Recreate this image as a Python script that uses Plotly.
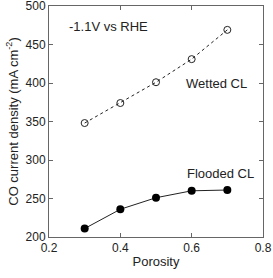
import plotly.graph_objects as go

porosity = [0.3, 0.4, 0.5, 0.6, 0.7]
wetted = [348, 374, 401, 431, 469]
flooded = [211, 236, 251, 260, 261]
x_ticks = [0.2, 0.4, 0.6, 0.8]
y_ticks = [200, 250, 300, 350, 400, 450, 500]

fig = go.Figure()
fig.add_trace(go.Scatter(x=porosity, y=wetted, mode="lines+markers",
                         line=dict(color="#222", width=1, dash="dot"),
                         marker=dict(symbol="circle-open", size=7, color="#222", line=dict(width=1)),
                         showlegend=False))
fig.add_trace(go.Scatter(x=porosity, y=flooded, mode="lines+markers",
                         line=dict(color="#222", width=1),
                         marker=dict(symbol="circle", size=8, color="black"),
                         showlegend=False))

tick_font = dict(family="Liberation Sans, Arial, sans-serif", size=12, color="#222")
font = dict(family="Liberation Sans, Arial, sans-serif", size=13, color="#222")
fig.update_layout(
    width=273, height=278,
    margin=dict(l=49, r=10, t=6, b=41, autoexpand=False),
    plot_bgcolor="white", paper_bgcolor="white",
    font=tick_font,
    xaxis=dict(range=[0.2, 0.8], tickvals=x_ticks, ticktext=["%.1f" % v for v in x_ticks],
               ticks="inside", ticklen=4, tickcolor="#666", showline=True, linecolor="#666", linewidth=1,
               mirror="ticks", showgrid=False, zeroline=False, automargin=False, tickfont=tick_font,
               ticklabeloverflow="allow",
               title=dict(text="Porosity", standoff=2, font=font)),
    yaxis=dict(range=[200, 500], tickvals=y_ticks,
               ticks="inside", ticklen=4, tickcolor="#666", showline=True, linecolor="#666", linewidth=1,
               mirror="ticks", showgrid=False, zeroline=False, automargin=False, tickfont=tick_font,
               ticklabeloverflow="allow",
               title=dict(text="CO current density (mA cm<sup>-2</sup>)", standoff=4, font=font)),
    annotations=[
        dict(x=0.251, y=473.5, text="-1.1V vs RHE", showarrow=False, xanchor="left", font=font),
        dict(x=0.579, y=399.5, text="Wetted CL", showarrow=False, xanchor="left", font=font),
        dict(x=0.582, y=283, text="Flooded CL", showarrow=False, xanchor="left", font=font),
    ],
)
fig.write_html("out.html", config={"displayModeBar": False},
               post_script="document.body.style.margin='0';document.body.style.overflow='hidden';")
